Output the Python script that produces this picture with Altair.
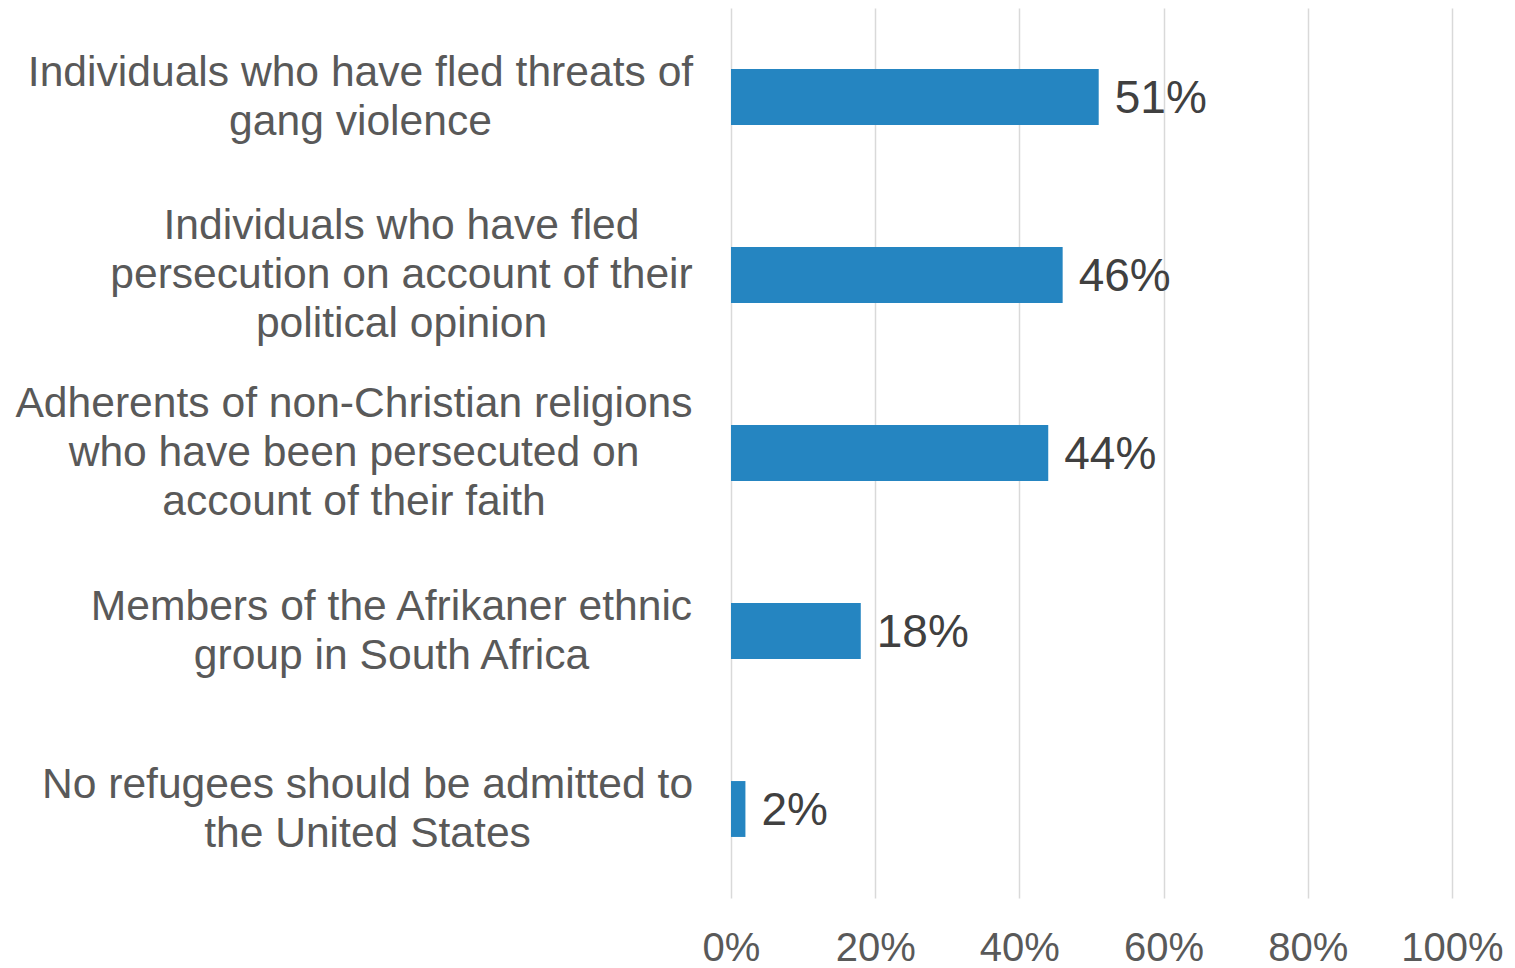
import altair as alt
import pandas as pd

# ---- data ----
categories = [
    "Individuals who have fled threats of\ngang violence",
    "Individuals who have fled\npersecution on account of their\npolitical opinion",
    "Adherents of non-Christian religions\nwho have been persecuted on\naccount of their faith",
    "Members of the Afrikaner ethnic\ngroup in South Africa",
    "No refugees should be admitted to\nthe United States",
]
values = [0.51, 0.46, 0.44, 0.18, 0.02]
value_labels = ["51%", "46%", "44%", "18%", "2%"]
x_ticks = [0, 0.2, 0.4, 0.6, 0.8, 1.0]

# ---- layout (pixel centres of the category label blocks, left of plot) ----
label_centers = [-370.5, -329.5, -377, -339.5, -363.5]
LINE_H = 49

FONT = "Liberation Sans"

df = pd.DataFrame({
    "i": list(range(len(categories))),
    "cat": categories,
    "value": values,
    "vlabel": value_labels,
})

y = alt.Y("i:O", axis=None,
          scale=alt.Scale(paddingInner=0.686, paddingOuter=0.343))
x = alt.X("value:Q", scale=alt.Scale(domain=[0, 1]),
          axis=alt.Axis(values=x_ticks, format=".0%", grid=True,
                        gridColor="#D9D9D9", gridWidth=1.5, domain=False,
                        ticks=False, labelFont=FONT, labelFontSize=40,
                        labelColor="#595959", labelPadding=50,
                        labelBaseline="middle",
                        labelOverlap=False, labelFlush=False, title=None))

base = alt.Chart(df)
bars = base.mark_bar(color="#2585C1").encode(x=x, y=y)
vals = base.mark_text(align="left", baseline="middle", dx=16, dy=2, font=FONT,
                      fontSize=46, color="#404040").encode(
    x="value:Q", y=y, text="vlabel:N")

layers = [bars, vals]
for i, cx in enumerate(label_centers):
    n_lines = categories[i].count("\n") + 1
    layers.append(
        base.transform_filter(alt.datum.i == i).mark_text(
            align="center", baseline="middle", lineBreak="\n",
            lineHeight=LINE_H, dy=-(n_lines - 1) * LINE_H / 2,
            font=FONT, fontSize=42.6, color="#595959").encode(
            x=alt.value(cx), y=y, text="cat:N")
    )

chart = alt.layer(*layers).properties(
    width=721, height=890,
    autosize=alt.AutoSizeParams(type="none"),
    padding={"left": 723, "top": 0, "right": 55, "bottom": 70},
).configure(font=FONT).configure_view(stroke="transparent", strokeWidth=0)

chart.save("out.html", embed_options={"renderer": "svg", "actions": False})
